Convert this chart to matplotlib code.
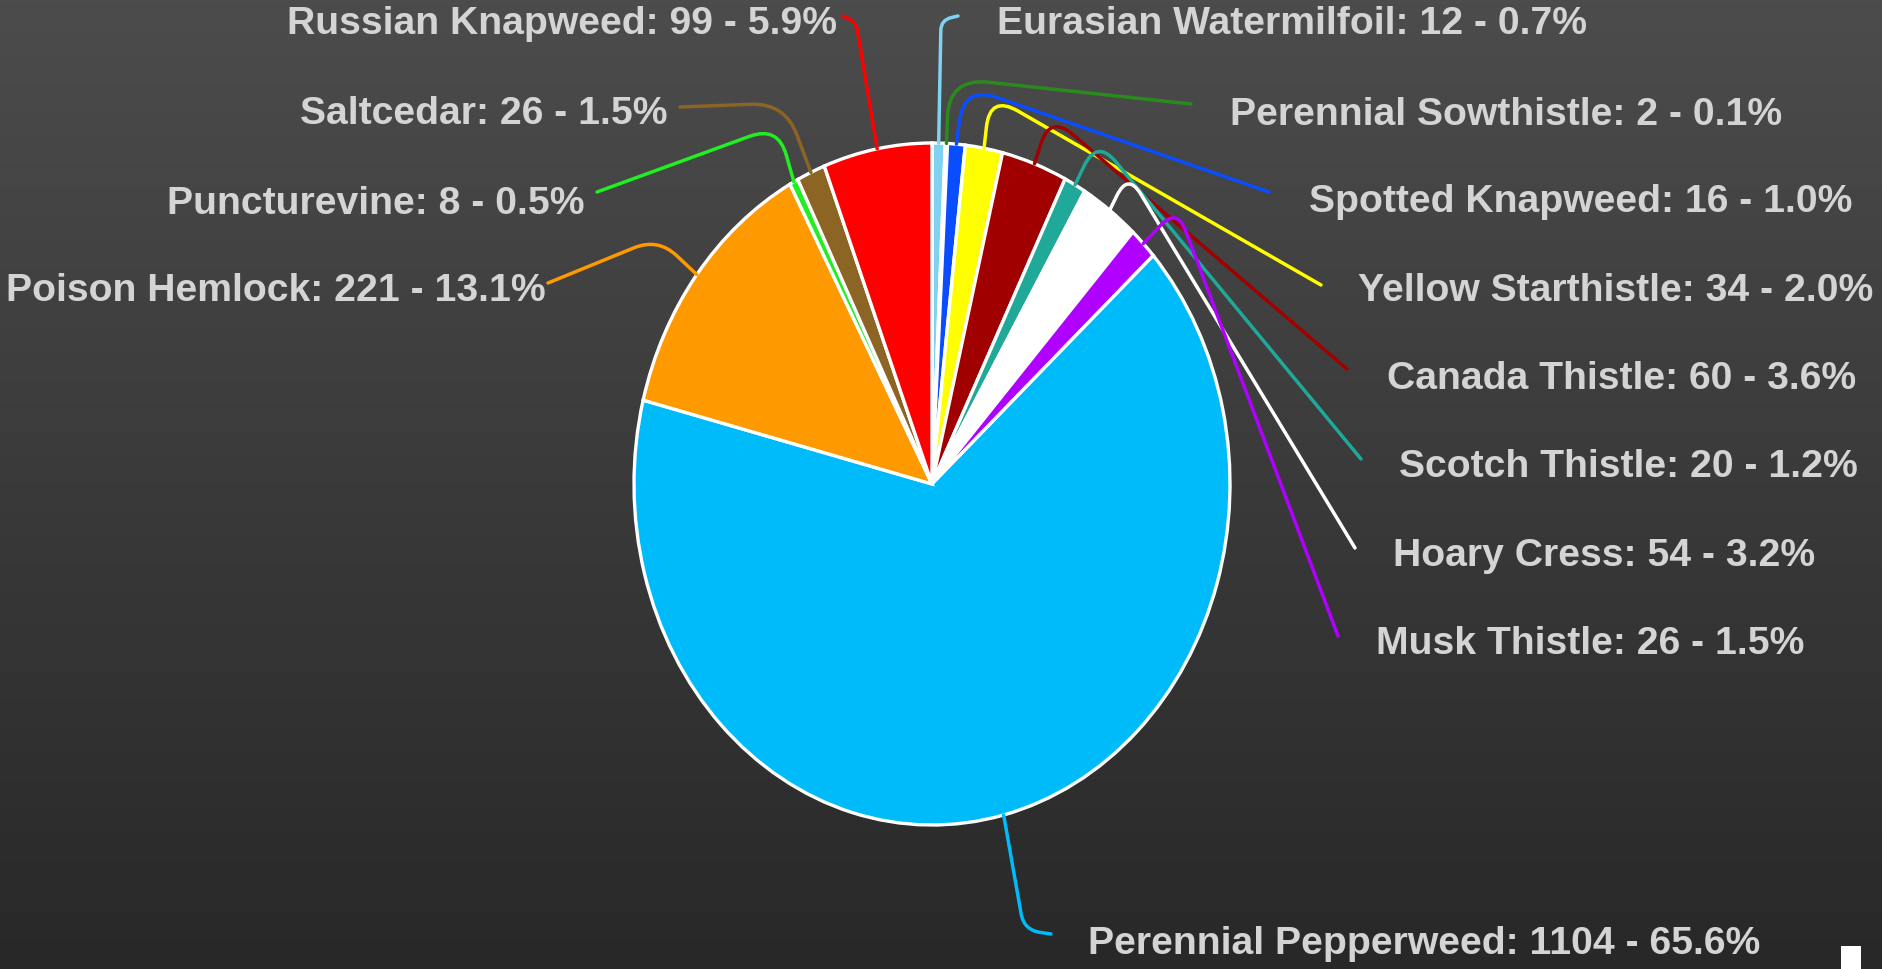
import numpy as np
import matplotlib
matplotlib.use("Agg")
import matplotlib.pyplot as plt
from matplotlib.path import Path
from matplotlib.patches import PathPatch, Rectangle

# ---- data (clockwise from 12 o'clock) ----
names = ["Eurasian Watermilfoil", "Perennial Sowthistle", "Spotted Knapweed",
         "Yellow Starthistle", "Canada Thistle", "Scotch Thistle", "Hoary Cress",
         "Musk Thistle", "Perennial Pepperweed", "Poison Hemlock", "Puncturevine",
         "Saltcedar", "Russian Knapweed"]
counts = [12, 2, 16, 34, 60, 20, 54, 26, 1104, 221, 8, 26, 99]
pct_labels = ["0.7%", "0.1%", "1.0%", "2.0%", "3.6%", "1.2%", "3.2%",
              "1.5%", "65.6%", "13.1%", "0.5%", "1.5%", "5.9%"]
colors = ["#7fd3f0", "#2a8a1e", "#0a4dff", "#ffff00", "#a00000", "#20a898",
          "#ffffff", "#b000ff", "#00bbf9", "#ff9900", "#22ee22", "#8c6424", "#ff0000"]

W, H = 1883, 969
fig = plt.figure(figsize=(W / 100, H / 100), dpi=100)

# background gradient
ax_bg = fig.add_axes([0, 0, 1, 1])
grad = np.linspace(0, 1, 256).reshape(-1, 1)
top = np.array([76, 76, 76]) / 255
bot = np.array([40, 40, 40]) / 255
img = top[None, None, :] * (1 - grad[:, :, None]) + bot[None, None, :] * grad[:, :, None]
ax_bg.imshow(img, aspect="auto", extent=[0, 1, 0, 1], origin="upper")
ax_bg.set_axis_off()

# pie (elliptical) geometry in pixels
cx, cy, rx, ry = 932, 484, 298, 341
ax = fig.add_axes([(cx - rx) / W, (H - cy - ry) / H, 2 * rx / W, 2 * ry / H])
wedges, _ = ax.pie(counts, colors=colors, startangle=90, counterclock=False,
                   wedgeprops=dict(edgecolor="white", linewidth=2.4))
for w in wedges:
    w.set_clip_on(False)
ax.set_aspect("auto")
ax.set_xlim(-1, 1)
ax.set_ylim(-1, 1)
ax.set_axis_off()

# overlay in pixel coordinates
ov = fig.add_axes([0, 0, 1, 1])
ov.set_xlim(0, W)
ov.set_ylim(H, 0)
ov.set_axis_off()
ov.patch.set_alpha(0)

# label layout: (text anchor x, y, ha, leader end P0, elbow P1, corner radius)
layout = {
    "Eurasian Watermilfoil": (997, 24, "left", (958, 16), (941, 20), 14),
    "Perennial Sowthistle": (1230, 115, "left", (1191, 104), (949, 78), 40),
    "Spotted Knapweed": (1309, 202, "left", (1269, 192), (964, 86), 40),
    "Yellow Starthistle": (1358, 291, "left", (1321, 285), (990, 95), 36),
    "Canada Thistle": (1387, 379, "left", (1347, 369), (1050, 115), 30),
    "Scotch Thistle": (1399, 467, "left", (1361, 459), (1097, 139), 30),
    "Hoary Cress": (1393, 556, "left", (1355, 548), (1128, 173), 30),
    "Musk Thistle": (1376, 644, "left", (1338, 636), (1177, 208), 24),
    "Perennial Pepperweed": (1088, 944, "left", (1051, 934), (1024, 930), 22),
    "Poison Hemlock": (546, 291, "right", (548, 283), (658, 238), 26),
    "Puncturevine": (585, 204, "right", (597, 192), (778, 126), 30),
    "Saltcedar": (668, 114, "right", (680, 107), (785, 103), 34),
    "Russian Knapweed": (837, 24, "right", (843, 16), (856, 22), 12),
}

total = sum(counts)
cum = 0.0
txt_color = "#d4d4d4"
for name, c, p, col in zip(names, counts, pct_labels, colors):
    mid = cum + c / 2
    cum += c
    theta = np.deg2rad(90 - 360 * mid / total)
    ax_x = cx + rx * np.cos(theta)
    ax_y = cy - ry * np.sin(theta)
    tx, ty, ha, p0, p1, rad = layout[name]
    p0 = np.array(p0, float)
    p1 = np.array(p1, float)
    p2 = np.array([ax_x, ax_y])
    d01 = np.linalg.norm(p1 - p0)
    d12 = np.linalg.norm(p2 - p1)
    r = min(rad, 0.6 * d01, 0.6 * d12)
    a = p1 + (p0 - p1) / max(d01, 1e-6) * r
    b = p1 + (p2 - p1) / max(d12, 1e-6) * r
    verts = [p0, a, p1, b, p2]
    codes = [Path.MOVETO, Path.LINETO, Path.CURVE3, Path.CURVE3, Path.LINETO]
    ov.add_patch(PathPatch(Path(verts, codes), facecolor="none", edgecolor=col,
                           lw=2.5, capstyle="round", joinstyle="round"))
    ov.text(tx, ty, f"{name}: {c} - {p}", ha=ha, va="center", color=txt_color,
            fontsize=28.2, fontweight="bold",
            family=["Liberation Sans", "DejaVu Sans"])

# small white square at bottom-right
ov.add_patch(Rectangle((1841, 946), 20, 23, facecolor="white", edgecolor="none"))

fig.savefig("out.png", dpi=100)
